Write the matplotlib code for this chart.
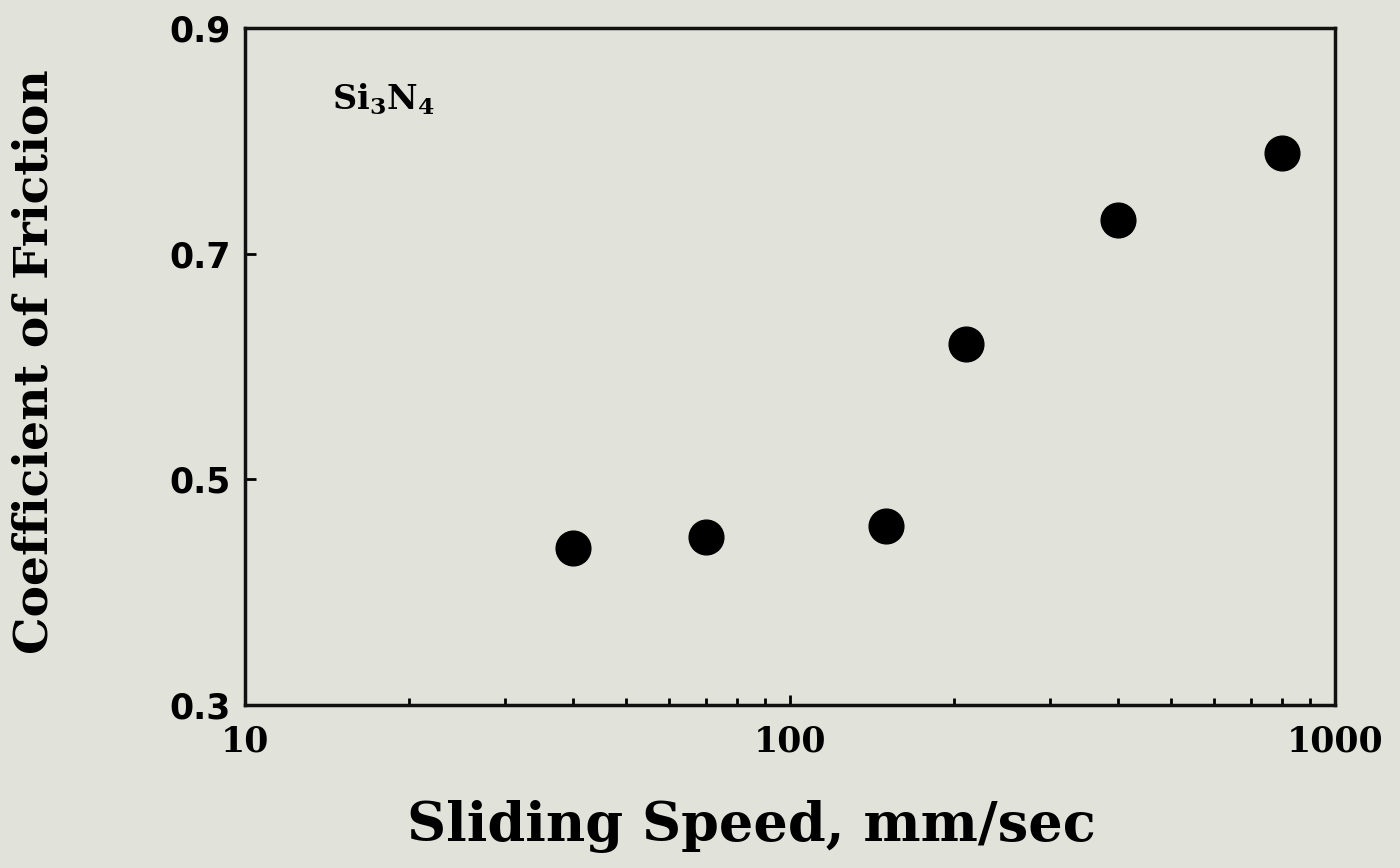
import matplotlib
matplotlib.use("Agg")
import matplotlib.pyplot as plt
from matplotlib.ticker import FixedLocator, NullFormatter, LogLocator

plt.rcParams["mathtext.fontset"] = "dejavuserif"

speed = [40, 70, 150, 210, 400, 800]
friction = [0.439, 0.449, 0.459, 0.62, 0.73, 0.789]
xticks = [10, 100, 1000]
xticklabels = ["10", "100", "1000"]
yticks = [0.3, 0.5, 0.7, 0.9]
yticklabels = ["0.3", "0.5", "0.7", "0.9"]

bg = "#e1e2da"
fig = plt.figure(figsize=(14, 8.68), dpi=100, facecolor=bg)
ax = fig.add_axes([0.175, 0.1878, 0.7786, 0.7799], facecolor=bg)

ax.plot(speed, friction, "o", color="black", markersize=25, linestyle="none")
ax.set_xscale("log")
ax.set_xlim(10, 1000)
ax.set_ylim(0.3, 0.9)

ax.xaxis.set_major_locator(FixedLocator(xticks))
ax.set_xticklabels(xticklabels, family="DejaVu Serif", fontweight="bold", fontsize=25)
ax.xaxis.set_minor_locator(LogLocator(base=10, subs=range(2, 10)))
ax.xaxis.set_minor_formatter(NullFormatter())
ax.yaxis.set_major_locator(FixedLocator(yticks))
ax.set_yticklabels(yticklabels, family="DejaVu Sans", fontweight="bold", fontsize=25)

ax.tick_params(axis="x", which="major", direction="in", length=7, width=2, pad=14)
ax.tick_params(axis="x", which="minor", direction="in", length=5, width=2)
ax.tick_params(axis="y", which="major", direction="in", length=8, width=2, pad=10)
for s in ax.spines.values():
    s.set_linewidth(2.5)
    s.set_color("#111")

ax.set_xlabel("Sliding Speed, mm/sec", family="DejaVu Serif", fontweight="bold",
              fontsize=39)
ax.xaxis.set_label_coords(0.465, -0.14)
ax.set_ylabel("Coefficient of Friction", family="DejaVu Serif", fontweight="bold",
              fontsize=34)
ax.yaxis.set_label_coords(-0.172, 0.507)
ax.text(0.08, 0.895, r"$\mathbf{Si_3N_4}$", transform=ax.transAxes, fontsize=24,
        ha="left", va="center")

fig.savefig("out.png", dpi=100, facecolor=bg)
